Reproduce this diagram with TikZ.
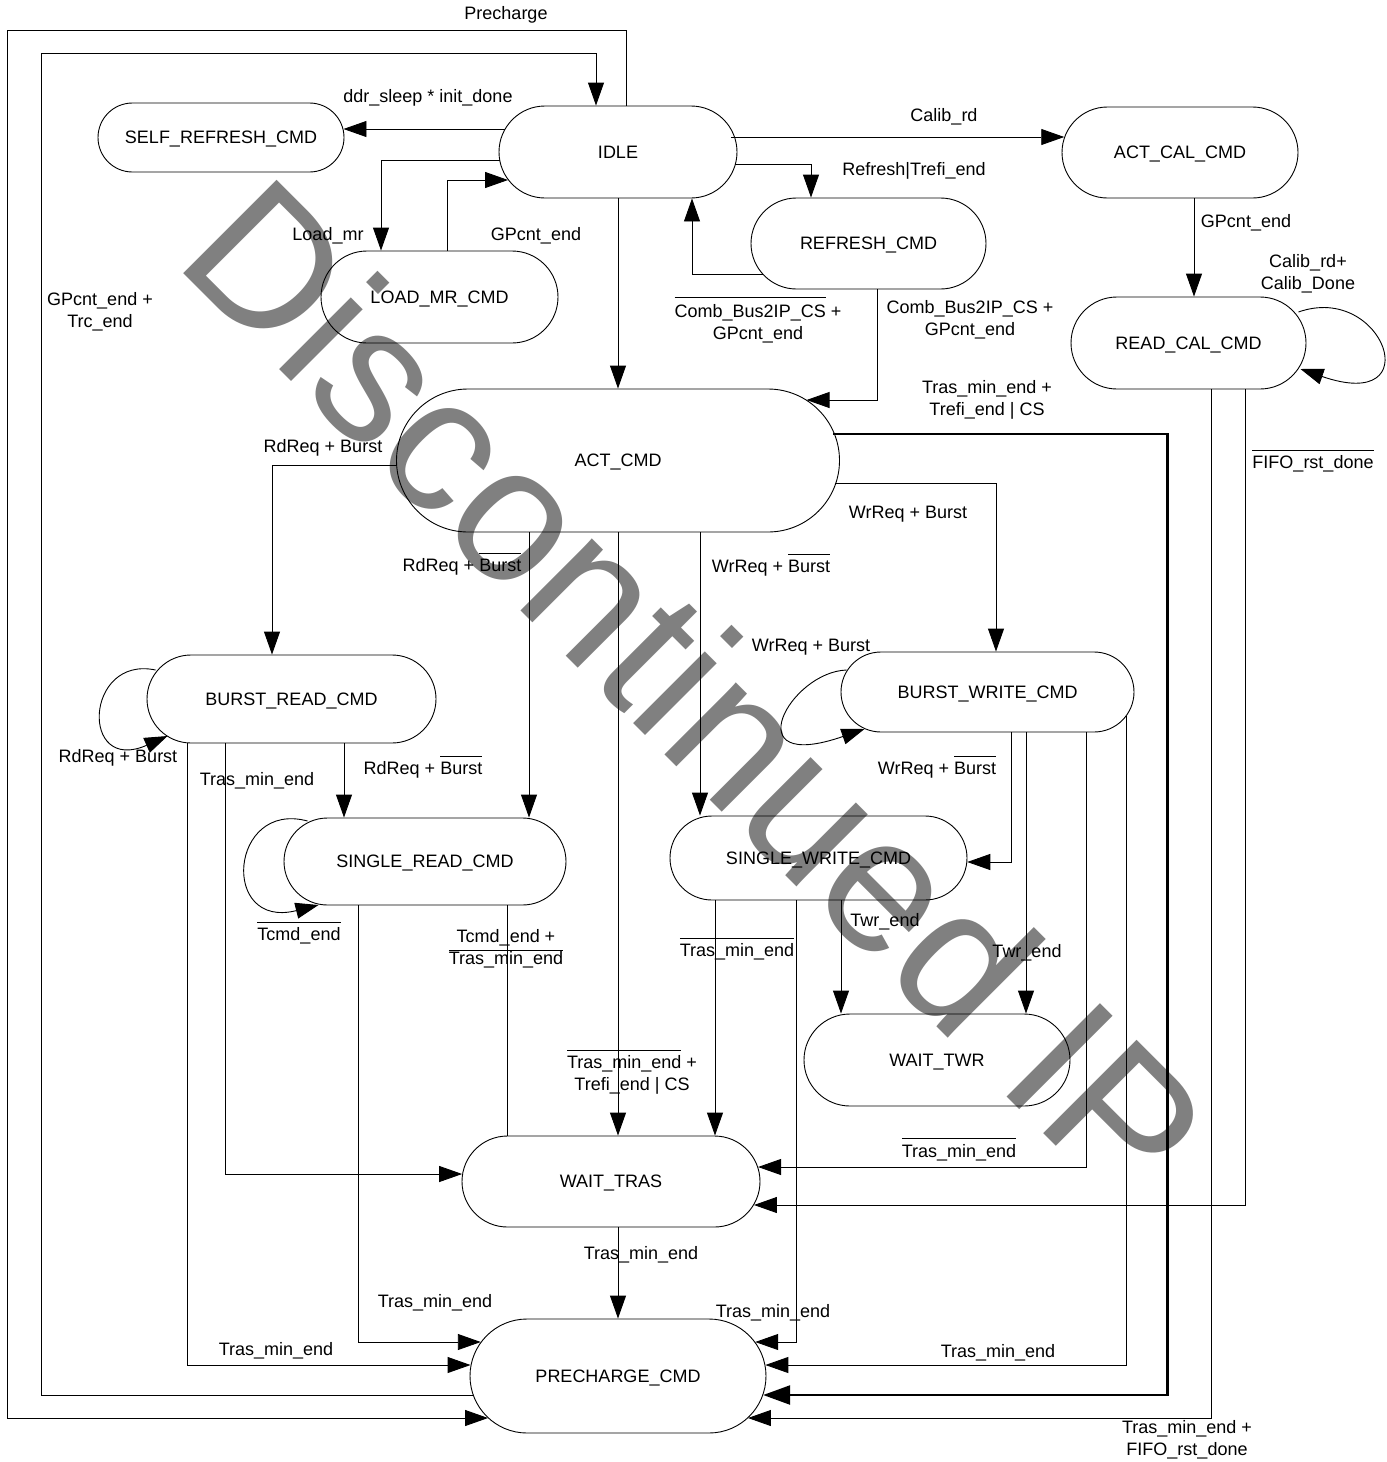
\documentclass[tikz,border=0pt]{standalone}
\usepackage{fontspec}
\setmainfont{Liberation Sans}
\usetikzlibrary{arrows.meta}
\definecolor{wmgray}{RGB}{128,128,128}
\newcommand{\nt}[2][17pt]{\leavevmode\vphantom{#2}\smash{$\overline{\mbox{\rule{0pt}{#1}#2}}$}}

\begin{document}
\begin{tikzpicture}[x=1pt,y=1pt,line width=0.9pt,
  font=\fontsize{18}{22}\selectfont,
  state/.style={draw,rectangle,inner sep=0pt,text depth=0pt,rounded corners=#1},
  arr/.style={-{Triangle[length=23pt,width=16pt]}},
  thickarr/.style={line width=2.4pt,-{Triangle[length=27pt,width=19pt]}},
  lbl/.style={align=center,inner sep=0pt}]
\useasboundingbox (0,0) rectangle (1387,-1462);
\node[rotate=-45,anchor=base west,inner sep=0pt,text=wmgray,font=\fontsize{192}{192}\selectfont] (wm) at (172,-262) {Discontinued IP};
% states
\node[state=46pt,minimum width=238pt,minimum height=92pt] (idle) at (618,-152) {IDLE};
\node[state=34.5pt,minimum width=246pt,minimum height=69pt] (selfref) at (221,-137.5) {SELF\_REFRESH\_CMD};
\node[state=46pt,minimum width=237pt,minimum height=92pt] (loadmr) at (439.5,-297) {LOAD\_MR\_CMD};
\node[state=45.5pt,minimum width=235pt,minimum height=91pt] (refresh) at (868.5,-243.5) {REFRESH\_CMD};
\node[state=45.5pt,minimum width=236pt,minimum height=91pt] (actcal) at (1180,-152.5) {ACT\_CAL\_CMD};
\node[state=46pt,minimum width=235pt,minimum height=92pt] (readcal) at (1188.5,-343) {READ\_CAL\_CMD};
\node[state=71.5pt,minimum width=443pt,minimum height=143pt] (act) at (618,-460.5) {ACT\_CMD};
\node[state=44pt,minimum width=289pt,minimum height=88pt] (burstrd) at (291.5,-699) {BURST\_READ\_CMD};
\node[state=43.5pt,minimum width=282pt,minimum height=87pt] (singlerd) at (425,-861.5) {SINGLE\_READ\_CMD};
\node[state=40pt,minimum width=293pt,minimum height=80pt] (burstwr) at (987.5,-692) {BURST\_WRITE\_CMD};
\node[state=42pt,minimum width=297pt,minimum height=84pt] (singlewr) at (818.5,-858) {SINGLE\_WRITE\_CMD};
\node[state=46pt,minimum width=266pt,minimum height=92pt] (waittwr) at (937,-1060) {WAIT\_TWR};
\node[state=45.5pt,minimum width=298pt,minimum height=91pt] (waittras) at (611,-1181.5) {WAIT\_TRAS};
\node[state=57pt,minimum width=296pt,minimum height=114pt] (precharge) at (618,-1376) {PRECHARGE\_CMD};
% transitions from IDLE
\draw[arr] ([xshift=8pt]idle.north) |- (7,-30) |- ([shift={(18.5,-42)}]precharge.west);
\draw[arr] ([shift={(3.3,-19)}]precharge.west) -| (41,-53) -| ([xshift=-22pt]idle.north);
\draw[arr] ([shift={(6,23)}]idle.west) -- ([shift={(-1,8.5)}]selfref.east);
\draw[arr] ([shift={(1,-8)}]idle.west) -| ([xshift=-58.5pt]loadmr.north);
\draw[arr] ([xshift=7.5pt]loadmr.north) |- ([shift={(9.5,-28)}]idle.west);
\draw[arr] (idle.south) -- (act.north);
\draw[arr] ([shift={(-6,15)}]idle.east) -- ([shift={(2.7,15.5)}]actcal.west);
\draw[arr] ([shift={(-2,-12)}]idle.east) -| ([xshift=-57.5pt]refresh.north);
\draw[arr] ([shift={(12,-30.5)}]refresh.west) -| ([xshift=74pt]idle.south);
\draw[arr] ([xshift=9pt]refresh.south) |- ([shift={(-33.4,60.5)}]act.east);
% calibration
\draw[arr] ([xshift=14pt]actcal.south) -- ([xshift=14pt]actcal.south |- readcal.north);
\draw[arr] ([shift={(-8,31)}]readcal.east) .. controls +(85,30) and +(130,-45) .. ([shift={(-6,-26)}]readcal.east);
\draw[arr] ([xshift=56.5pt]readcal.south) |- ([shift={(-6.5,-23.5)}]waittras.east);
\draw[arr] ([xshift=22.5pt]readcal.south) |- ([shift={(-18.5,-42)}]precharge.east);
% from ACT_CMD
\draw[thickarr] ([shift={(-6.5,26.5)}]act.east) -- ++(334,0) |- ([shift={(-3.3,-19)}]precharge.east);
\draw[arr] (act.south) -- (act.south |- waittras.north);
\draw[arr] ([shift={(0.5,-4.5)}]act.west) -| ([xshift=-19.5pt]burstrd.north);
\draw[arr] ([xshift=-89pt]act.south) -- ([xshift=-89pt]act.south |- singlerd.north);
\draw[arr] ([xshift=82pt]act.south) -- ([xshift=82pt]act.south |- singlewr.north);
\draw[arr] ([shift={(-5,-22.5)}]act.east) -| ([xshift=8.5pt]burstwr.north);
% read side
\draw[arr] ([shift={(9,29)}]burstrd.west) .. controls +(-71,15) and +(-88,-39) .. ([shift={(21,-37)}]burstrd.west);
\draw[arr] ([xshift=52.5pt]burstrd.south) -- ([xshift=52.5pt]burstrd.south |- singlerd.north);
\draw[arr] ([xshift=-66.5pt]burstrd.south) |- ([shift={(0.6,7.5)}]waittras.west);
\draw[arr] ([xshift=-104pt]burstrd.south) |- ([shift={(1,11)}]precharge.west);
\draw[arr] ([shift={(24,40.5)}]singlerd.west) .. controls +(-78,21) and +(-99,-25) .. ([shift={(35,-43.5)}]singlerd.west);
\draw[arr] ([xshift=-67pt]singlerd.south) |- ([shift={(11.25,34)}]precharge.west);
\draw ([xshift=82pt]singlerd.south) -- ([xshift=82pt]singlerd.south |- waittras.north);
% write side
\draw[arr] ([shift={(6,22)}]burstwr.west) .. controls +(-57,-2) and +(-130,-45) .. ([shift={(24,-37)}]burstwr.west);
\draw[arr] ([xshift=23.5pt]burstwr.south) |- ([shift={(-0.2,-4)}]singlewr.east);
\draw[arr] ([xshift=38.5pt]burstwr.south) -- ([xshift=38.5pt]burstwr.south |- waittwr.north);
\draw[arr] ([xshift=98.5pt]burstwr.south) |- ([shift={(-2.4,14.5)}]waittras.east);
\draw[arr] ([shift={(-8,-24)}]burstwr.east) |- ([shift={(-1.1,11)}]precharge.east);
\draw[arr] ([xshift=22.5pt]singlewr.south) -- ([xshift=22.5pt]singlewr.south |- waittwr.north);
\draw[arr] ([xshift=-103.5pt]singlewr.south) -- ([xshift=-103.5pt]singlewr.south |- waittras.north);
\draw[arr] ([xshift=-22.5pt]singlewr.south) |- ([shift={(-11.25,34)}]precharge.east);
\draw[arr] (precharge.north |- waittras.south) -- (precharge.north);
% conditions
\node[lbl] (lpre) at (506,-15) {Precharge};
\node[lbl] (lsleep) at (428,-98) {ddr\_sleep * init\_done};
\node[lbl] (lload) at (328,-236) {Load\_mr};
\node[lbl] (lgpload) at (536,-236) {GPcnt\_end};
\node[lbl] (ltrc) at (100,-312) {GPcnt\_end +\\Trc\_end};
\node[lbl] (lcal) at (944,-117) {Calib\_rd};
\node[lbl] (lref) at (914,-171) {Refresh|Trefi\_end};
\node[lbl] (lncomb) at (758,-324) {\nt[19pt]{Comb\_Bus2IP\_CS} +\\GPcnt\_end};
\node[lbl] (lcomb) at (970,-320) {Comb\_Bus2IP\_CS +\\GPcnt\_end};
\node[lbl] (lgpcal) at (1246,-223) {GPcnt\_end};
\node[lbl] (lcalrd) at (1308,-274) {Calib\_rd+\\Calib\_Done};
\node[lbl] (ltrefi) at (987,-400) {Tras\_min\_end +\\Trefi\_end | CS};
\node[lbl] (lfifo) at (1313,-464) {\nt{FIFO\_rst\_done}};
\node[lbl] (lrdb) at (323,-448) {RdReq + Burst};
\node[lbl] (lrdnb) at (462,-567) {RdReq + \nt{Burst}};
\node[lbl] (lwrnb) at (771,-568) {WrReq + \nt{Burst}};
\node[lbl] (lwrb) at (908,-514) {WrReq + Burst};
\node[lbl] (lwrloop) at (811,-647) {WrReq + Burst};
\node[lbl] (lrdloop) at (118,-758) {RdReq + Burst};
\node[lbl] (lbrtras) at (257,-781) {Tras\_min\_end};
\node[lbl] (lbrnb) at (423,-770) {RdReq + \nt{Burst}};
\node[lbl] (lbwnb) at (937,-770) {WrReq + \nt{Burst}};
\node[lbl] (ltcmd) at (299,-936) {\nt{Tcmd\_end}};
\node[lbl] (lsrtras) at (506,-949) {Tcmd\_end +\\\nt[13pt]{Tras\_min\_end}};
\node[lbl] (lswtras) at (737,-952) {\nt{Tras\_min\_end}};
\node[lbl] (ltwr1) at (885,-922) {Twr\_end};
\node[lbl] (ltwr2) at (1027,-953) {Twr\_end};
\node[lbl] (lactwt) at (632,-1075) {\nt{Tras\_min\_end} +\\Trefi\_end | CS};
\node[lbl] (lbwwt) at (959,-1153) {\nt[18pt]{Tras\_min\_end}};
\node[lbl] (lwtpc) at (641,-1255) {Tras\_min\_end};
\node[lbl] (lsrpc) at (435,-1303) {Tras\_min\_end};
\node[lbl] (lswpc) at (773,-1313) {Tras\_min\_end};
\node[lbl] (lbrpc) at (276,-1351) {Tras\_min\_end};
\node[lbl] (lbwpc) at (998,-1353) {Tras\_min\_end};
\node[lbl] (lrcpc) at (1187,-1440) {Tras\_min\_end +\\FIFO\_rst\_done};
\end{tikzpicture}
\end{document}
